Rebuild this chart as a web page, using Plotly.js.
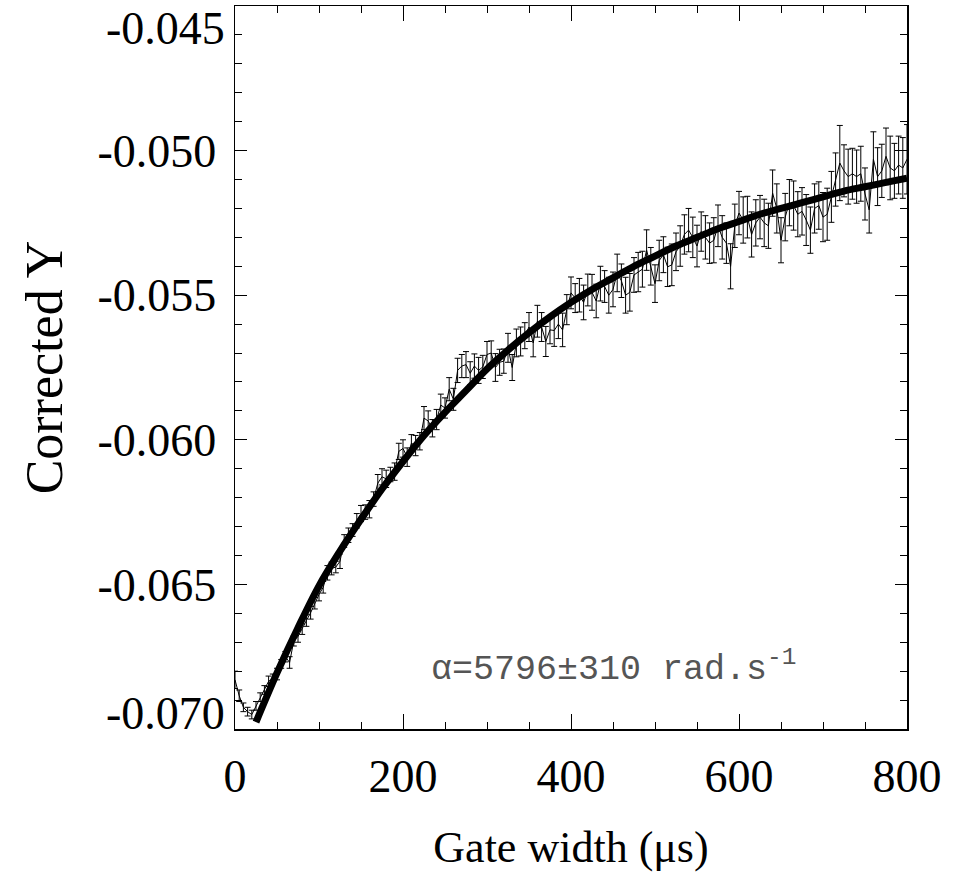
<!DOCTYPE html>
<html>
<head>
<meta charset="utf-8">
<script src="https://cdn.plot.ly/plotly-3.0.1.min.js"></script>
<style>html,body{margin:0;padding:0;background:#fff;}#chart{width:958px;height:873px;}</style>
</head>
<body>
<div id="chart"></div>
<script>
const gateWidth = [
  0,5,10,15,20,25,30,35,40,45,
  50,55,60,65,70,75,80,85,90,95,
  100,105,110,115,120,125,130,135,140,145,
  150,155,160,165,170,175,180,185,190,195,
  200,205,210,215,220,225,230,235,240,245,
  250,255,260,265,270,275,280,285,290,295,
  300,305,310,315,320,325,330,335,340,345,
  350,355,360,365,370,375,380,385,390,395,
  400,405,410,415,420,425,430,435,440,445,
  450,455,460,465,470,475,480,485,490,495,
  500,505,510,515,520,525,530,535,540,545,
  550,555,560,565,570,575,580,585,590,595,
  600,605,610,615,620,625,630,635,640,645,
  650,655,660,665,670,675,680,685,690,695,
  700,705,710,715,720,725,730,735,740,745,
  750,755,760,765,770,775,780,785,790,795,
  800
];
const correctedY = [
  -0.06830,-0.06885,-0.06925,-0.06940,-0.06950,-0.06920,-0.06890,-0.06865,-0.06835,-0.06825,
  -0.06810,-0.06775,-0.06750,-0.06770,-0.06695,-0.06680,-0.06655,-0.06625,-0.06598,-0.06565,
  -0.06535,-0.06510,-0.06460,-0.06445,-0.06440,-0.06420,-0.06350,-0.06330,-0.06312,-0.06280,
  -0.06255,-0.06250,-0.06240,-0.06205,-0.06150,-0.06128,-0.06135,-0.06120,-0.06110,-0.06040,
  -0.06030,-0.06060,-0.06012,-0.06020,-0.06005,-0.05925,-0.05935,-0.05960,-0.05930,-0.05880,
  -0.05890,-0.05825,-0.05860,-0.05760,-0.05745,-0.05740,-0.05770,-0.05745,-0.05760,-0.05748,
  -0.05705,-0.05700,-0.05750,-0.05732,-0.05728,-0.05682,-0.05750,-0.05665,-0.05660,-0.05640,
  -0.05610,-0.05665,-0.05590,-0.05610,-0.05660,-0.05620,-0.05622,-0.05600,-0.05620,-0.05550,
  -0.05492,-0.05510,-0.05500,-0.05525,-0.05482,-0.05490,-0.05520,-0.05460,-0.05470,-0.05500,
  -0.05480,-0.05423,-0.05450,-0.05500,-0.05490,-0.05430,-0.05420,-0.05410,-0.05344,-0.05400,
  -0.05460,-0.05380,-0.05360,-0.05402,-0.05395,-0.05350,-0.05330,-0.05290,-0.05275,-0.05300,
  -0.05330,-0.05280,-0.05300,-0.05320,-0.05310,-0.05260,-0.05300,-0.05320,-0.05400,-0.05260,
  -0.05216,-0.05240,-0.05230,-0.05290,-0.05250,-0.05230,-0.05250,-0.05260,-0.05147,-0.05200,
  -0.05310,-0.05230,-0.05180,-0.05190,-0.05220,-0.05210,-0.05240,-0.05275,-0.05200,-0.05190,
  -0.05230,-0.05220,-0.05160,-0.05100,-0.05043,-0.05070,-0.05090,-0.05080,-0.05090,-0.05080,
  -0.05150,-0.05205,-0.05030,-0.05090,-0.05070,-0.05020,-0.05060,-0.05070,-0.05050,-0.05060,
  -0.05030
];
const errorY = [
  0.00030,0.00020,0.00015,0.00015,0.00015,0.00015,0.00015,0.00015,0.00018,0.00015,
  0.00020,0.00015,0.00018,0.00020,0.00018,0.00020,0.00018,0.00020,0.00022,0.00020,
  0.00022,0.00020,0.00025,0.00022,0.00020,0.00025,0.00022,0.00025,0.00022,0.00025,
  0.00028,0.00025,0.00030,0.00025,0.00030,0.00028,0.00030,0.00025,0.00030,0.00028,
  0.00030,0.00032,0.00030,0.00035,0.00030,0.00040,0.00035,0.00030,0.00035,0.00038,
  0.00035,0.00040,0.00038,0.00042,0.00040,0.00045,0.00040,0.00042,0.00045,0.00040,
  0.00045,0.00042,0.00048,0.00045,0.00042,0.00050,0.00045,0.00048,0.00050,0.00045,
  0.00050,0.00048,0.00055,0.00050,0.00052,0.00048,0.00055,0.00050,0.00058,0.00052,
  0.00055,0.00050,0.00058,0.00060,0.00055,0.00062,0.00058,0.00060,0.00055,0.00062,
  0.00060,0.00065,0.00058,0.00062,0.00065,0.00060,0.00068,0.00062,0.00070,0.00065,
  0.00065,0.00070,0.00062,0.00068,0.00072,0.00065,0.00070,0.00068,0.00075,0.00070,
  0.00072,0.00068,0.00075,0.00070,0.00078,0.00072,0.00075,0.00070,0.00078,0.00075,
  0.00075,0.00080,0.00072,0.00078,0.00080,0.00075,0.00082,0.00078,0.00080,0.00085,
  0.00078,0.00082,0.00080,0.00085,0.00078,0.00082,0.00088,0.00080,0.00085,0.00082,
  0.00085,0.00090,0.00088,0.00092,0.00130,0.00090,0.00095,0.00088,0.00092,0.00095,
  0.00090,0.00080,0.00095,0.00100,0.00092,0.00098,0.00110,0.00095,0.00100,0.00105,
  0.00120
];
const fitX = [25,50,75,100,125,150,175,200,225,250,275,300,325,350,375,400,
              425,450,475,500,525,550,575,600,625,650,675,700,725,750,775,800];
const fitY = [-0.06976,-0.06806,-0.06650,-0.06505,-0.06385,-0.06275,-0.06170,-0.06075,
              -0.05985,-0.05905,-0.05830,-0.05755,-0.05690,-0.05630,-0.05575,-0.05525,
              -0.05480,-0.05440,-0.05400,-0.05365,-0.05330,-0.05300,-0.05270,-0.05245,
              -0.05220,-0.05200,-0.05180,-0.05160,-0.05140,-0.05125,-0.05110,-0.05095];
const yTickVals = [-0.065,-0.060,-0.055,-0.050];
const yTickText = ['-0.065','-0.060','-0.055','-0.050'];
const yEndVals = [-0.045,-0.070];
const yEndText = ['-0.045','-0.070'];
const xTickVals = [0,200,400,600,800];
const xTickText = ['0','200','400','600','800'];
const fitLabel = 'α=5796±310 rad.s<sup>-1</sup>';
const xTitle = 'Gate width (μs)';
const yTitle = 'Corrected Y';

const tickFont = {family:'"Liberation Serif","Times New Roman",serif', size:46, color:'#000'};

const traces = [
  {
    x: gateWidth, y: correctedY, type:'scatter', mode:'lines',
    line:{color:'#000', width:1},
    error_y:{type:'data', array:errorY, visible:true, color:'#000', thickness:1, width:3},
    hoverinfo:'skip', showlegend:false
  },
  {
    x: fitX, y: fitY, type:'scatter', mode:'lines',
    line:{color:'#000', width:7, shape:'spline'},
    hoverinfo:'skip', showlegend:false
  }
];

const layout = {
  width:958, height:873,
  margin:{l:235, r:51, t:6, b:144, pad:0},
  paper_bgcolor:'#fff', plot_bgcolor:'#fff',
  showlegend:false,
  xaxis:{
    range:[0,800], tickvals:xTickVals, ticktext:xTickText,
    ticks:'inside', ticklen:15, tickwidth:1, tickcolor:'#000',
    showline:true, linecolor:'#000', linewidth:1.5, mirror:'ticks',
    showgrid:false, zeroline:false, tickfont:tickFont, ticklabelstandoff:6,
    minor:{dtick:50, tick0:0, ticks:'inside', ticklen:7, tickwidth:1, tickcolor:'#000', showgrid:false},
    title:{text:xTitle, font:{family:tickFont.family, size:44, color:'#000'}, standoff:30}
  },
  yaxis:{
    range:[-0.070,-0.045], tickvals:yTickVals, ticktext:yTickText,
    ticks:'inside', ticklen:12, tickwidth:1, tickcolor:'#000',
    showline:true, linecolor:'#000', linewidth:1.5, mirror:'ticks',
    showgrid:false, zeroline:false, tickfont:tickFont, ticklabelstandoff:8,
    minor:{dtick:0.001, tick0:0, ticks:'inside', ticklen:7, tickwidth:1, tickcolor:'#000', showgrid:false},
    title:{text:yTitle, font:{family:tickFont.family, size:52, color:'#000'}, standoff:18}
  },
  annotations:[
    {xref:'paper', yref:'y', x:0, y:yEndVals[0], text:yEndText[0], showarrow:false,
     xanchor:'right', yanchor:'middle', xshift:-8, yshift:-22, font:tickFont},
    {xref:'paper', yref:'y', x:0, y:yEndVals[1], text:yEndText[1], showarrow:false,
     xanchor:'right', yanchor:'middle', xshift:-8, yshift:16, font:tickFont},
    {xref:'x', yref:'y', x:450, y:-0.06786, text:fitLabel, showarrow:false,
     xanchor:'center', yanchor:'middle',
     font:{family:'"Liberation Mono","DejaVu Sans Mono",monospace', size:35, color:'#555'}}
  ]
};

Plotly.newPlot('chart', traces, layout, {staticPlot:true, displayModeBar:false});
</script>
</body>
</html>
